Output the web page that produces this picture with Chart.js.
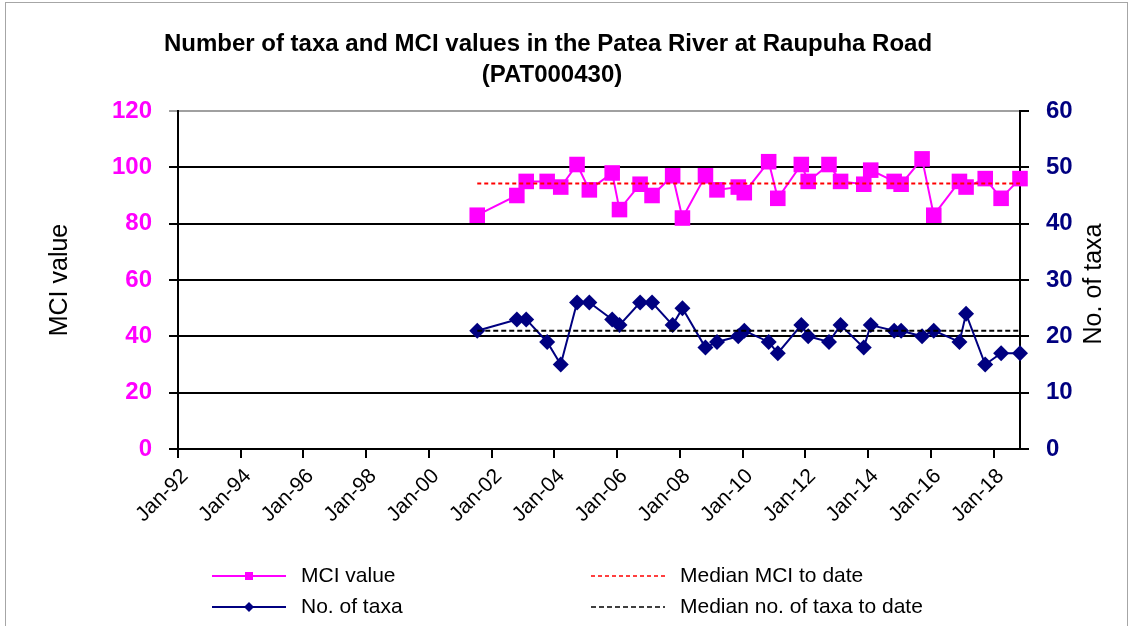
<!DOCTYPE html>
<html>
<head>
<meta charset="utf-8">
<script src="https://cdn.jsdelivr.net/npm/chart.js@4.4.0/dist/chart.umd.min.js"></script>
<style>
  html, body { margin: 0; padding: 0; background: #fff; }
  #wrap { width: 1134px; height: 626px; }
</style>
</head>
<body>
<div id="wrap"><canvas id="taxaChart" width="1134" height="626"></canvas></div>
<script>
// Sampling dates and values (approximate)
const sampleDates = [
    '2001-07-16', '2002-10-20', '2003-02-06', '2003-10-08', '2004-03-14', '2004-09-20',
    '2005-02-10', '2005-11-03', '2006-01-27', '2006-09-24', '2007-02-10', '2007-10-08',
    '2008-01-30', '2008-10-24', '2009-03-07', '2009-11-10', '2010-01-19', '2010-10-30',
    '2011-02-13', '2011-11-14', '2012-02-02', '2012-10-01', '2013-02-13', '2013-11-10',
    '2014-01-30', '2014-10-30', '2015-01-19', '2015-09-20', '2016-02-03', '2016-11-28',
    '2017-02-13', '2017-09-24', '2018-03-28', '2018-11-03'
];
const mciValues = [
    83, 90, 95, 95, 93, 101, 92, 98, 85, 94, 90, 97,
    82, 97, 92, 93, 91, 102, 89, 101, 95, 101, 95, 94,
    99, 95, 94, 103, 83, 95, 93, 96, 89, 96
];
const taxaCounts = [
    21, 23, 23, 19, 15, 26, 26, 23, 22, 26, 26, 22,
    25, 18, 19, 20, 21, 19, 17, 22, 20, 19, 22, 18,
    22, 21, 21, 20, 21, 19, 24, 15, 17, 17
];
const medianMci = 94.3;
const medianTaxa = 21;
const tickYears = [1992, 1994, 1996, 1998, 2000, 2002, 2004, 2006, 2008, 2010, 2012, 2014, 2016, 2018];

const titleLines = ['Number of taxa and MCI values in the Patea River at Raupuha Road', '(PAT000430)'];
const rightAxisTitle = 'No. of taxa';

const dateMs = sampleDates.map(d => Date.parse(d));
const firstDate = dateMs[0];
const lastDate = dateMs[dateMs.length - 1];

const FONT = '"Liberation Sans", Arial, sans-serif';

// background, outer frame, title, right axis title and the two-column legend
const decorPlugin = {
    id: 'decor',
    beforeDraw(chart) {
        const ctx = chart.ctx;
        ctx.save();
        ctx.fillStyle = '#fff';
        ctx.fillRect(0, 0, chart.width, chart.height);
        ctx.strokeStyle = '#a6a6a6';
        ctx.lineWidth = 1;
        ctx.strokeRect(5.5, 2.5, 1122, 700);
        ctx.restore();
    },
    afterDraw(chart) {
        const ctx = chart.ctx;
        ctx.save();
        ctx.fillStyle = '#000';
        ctx.textAlign = 'center';
        ctx.textBaseline = 'middle';
        ctx.font = 'bold 24px ' + FONT;
        ctx.fillText(titleLines[0], 548, 44);
        ctx.fillText(titleLines[1], 552, 75);

        // right axis title reads bottom to top, like the left one
        const area = chart.chartArea;
        ctx.save();
        ctx.translate(1094, (area.top + area.bottom) / 2 + 4);
        ctx.rotate(-Math.PI / 2);
        ctx.font = '25px ' + FONT;
        ctx.fillText(rightAxisTitle, 0, 0);
        ctx.restore();

        // legend slots: [x, y] for each dataset
        const slots = { mci: [212, 576], taxa: [212, 607], medMci: [591, 576], medTaxa: [591, 607] };
        chart.data.datasets.forEach(ds => {
            const [x, y] = slots[ds.key];
            ctx.strokeStyle = ds.borderColor;
            ctx.lineWidth = ds.key.startsWith('med') ? 1.5 : 2;
            ctx.setLineDash(ds.borderDash || []);
            ctx.beginPath();
            ctx.moveTo(x, y);
            ctx.lineTo(x + 74, y);
            ctx.stroke();
            ctx.setLineDash([]);
            ctx.fillStyle = ds.borderColor;
            if (ds.key === 'mci') {
                ctx.fillRect(x + 33, y - 4, 8, 8);
            } else if (ds.key === 'taxa') {
                ctx.beginPath();
                ctx.moveTo(x + 37, y - 5);
                ctx.lineTo(x + 42, y);
                ctx.lineTo(x + 37, y + 5);
                ctx.lineTo(x + 32, y);
                ctx.closePath();
                ctx.fill();
            }
            ctx.fillStyle = '#000';
            ctx.font = '21px ' + FONT;
            ctx.textAlign = 'left';
            ctx.fillText(ds.label, x + 89, y);
        });
        ctx.restore();
    }
};

const ctx = document.getElementById('taxaChart').getContext('2d');
const myChart = new Chart(ctx, {
    type: 'line',
    data: {
        datasets: [
            {
                key: 'medMci',
                label: 'Median MCI to date',
                data: [{ x: firstDate, y: medianMci }, { x: lastDate, y: medianMci }],
                yAxisID: 'y',
                borderColor: '#ff0000',
                borderWidth: 2,
                borderDash: [4, 3],
                pointRadius: 0,
                order: 0
            },
            {
                key: 'medTaxa',
                label: 'Median no. of taxa to date',
                data: [{ x: firstDate, y: medianTaxa }, { x: lastDate, y: medianTaxa }],
                yAxisID: 'y1',
                borderColor: '#000000',
                borderWidth: 2,
                borderDash: [5, 3],
                pointRadius: 0,
                order: 1
            },
            {
                key: 'mci',
                label: 'MCI value',
                data: dateMs.map((d, i) => ({ x: d, y: mciValues[i] })),
                yAxisID: 'y',
                borderColor: '#ff00ff',
                backgroundColor: '#ff00ff',
                borderWidth: 2,
                pointStyle: 'rect',
                pointRadius: 11,
                pointBorderWidth: 0,
                pointBackgroundColor: '#ff00ff',
                clip: false,
                order: 2
            },
            {
                key: 'taxa',
                label: 'No. of taxa',
                data: dateMs.map((d, i) => ({ x: d, y: taxaCounts[i] })),
                yAxisID: 'y1',
                borderColor: '#000080',
                backgroundColor: '#000080',
                borderWidth: 2,
                pointStyle: 'rectRot',
                pointRadius: 8,
                pointBorderWidth: 0,
                pointBackgroundColor: '#000080',
                clip: false,
                order: 3
            }
        ]
    },
    options: {
        responsive: false,
        animation: false,
        layout: { padding: { top: 111, left: 0, right: 0, bottom: 0 } },
        plugins: {
            legend: { display: false },
            title: { display: false },
            tooltip: { enabled: false }
        },
        elements: { line: { tension: 0 } },
        scales: {
            x: {
                type: 'linear',
                min: Date.UTC(1992, 0, 1),
                max: lastDate,
                afterBuildTicks(scale) {
                    scale.ticks = tickYears.map(y => ({ value: Date.UTC(y, 0, 1) }));
                },
                afterFit(scale) { scale.height = 177; },
                grid: { drawOnChartArea: false, drawTicks: true, tickLength: 9, color: '#000', lineWidth: 2 },
                border: { color: '#000', width: 2 },
                ticks: {
                    autoSkip: false,
                    maxRotation: 45,
                    minRotation: 45,
                    padding: 6,
                    labelOffset: 7,
                    color: '#000',
                    font: { family: FONT, size: 21 },
                    callback(value) {
                        const yr = new Date(value).getUTCFullYear();
                        return 'Jan-' + String(yr).slice(2);
                    }
                }
            },
            y: {
                position: 'left',
                min: 0,
                max: 120,
                afterFit(scale) { scale.width = 178; },
                ticks: {
                    stepSize: 20,
                    padding: 17,
                    color: '#ff00ff',
                    font: { family: FONT, size: 24, weight: 'bold' }
                },
                grid: {
                    tickLength: 9,
                    lineWidth: 2,
                    color: c => (c.tick && c.tick.value === 120) ? '#a0a0a0' : '#000'
                },
                border: { color: '#000', width: 2 },
                title: {
                    display: true,
                    text: 'MCI value',
                    color: '#000',
                    font: { family: FONT, size: 25 },
                    padding: { top: 45, bottom: 0 }
                }
            },
            y1: {
                position: 'right',
                min: 0,
                max: 60,
                afterFit(scale) { scale.width = 114; },
                ticks: {
                    stepSize: 10,
                    padding: 17,
                    color: '#000080',
                    font: { family: FONT, size: 24, weight: 'bold' }
                },
                grid: { drawOnChartArea: false, tickLength: 9, lineWidth: 2, color: '#000' },
                border: { color: '#000', width: 2 }
            }
        }
    },
    plugins: [decorPlugin]
});
</script>
</body>
</html>
